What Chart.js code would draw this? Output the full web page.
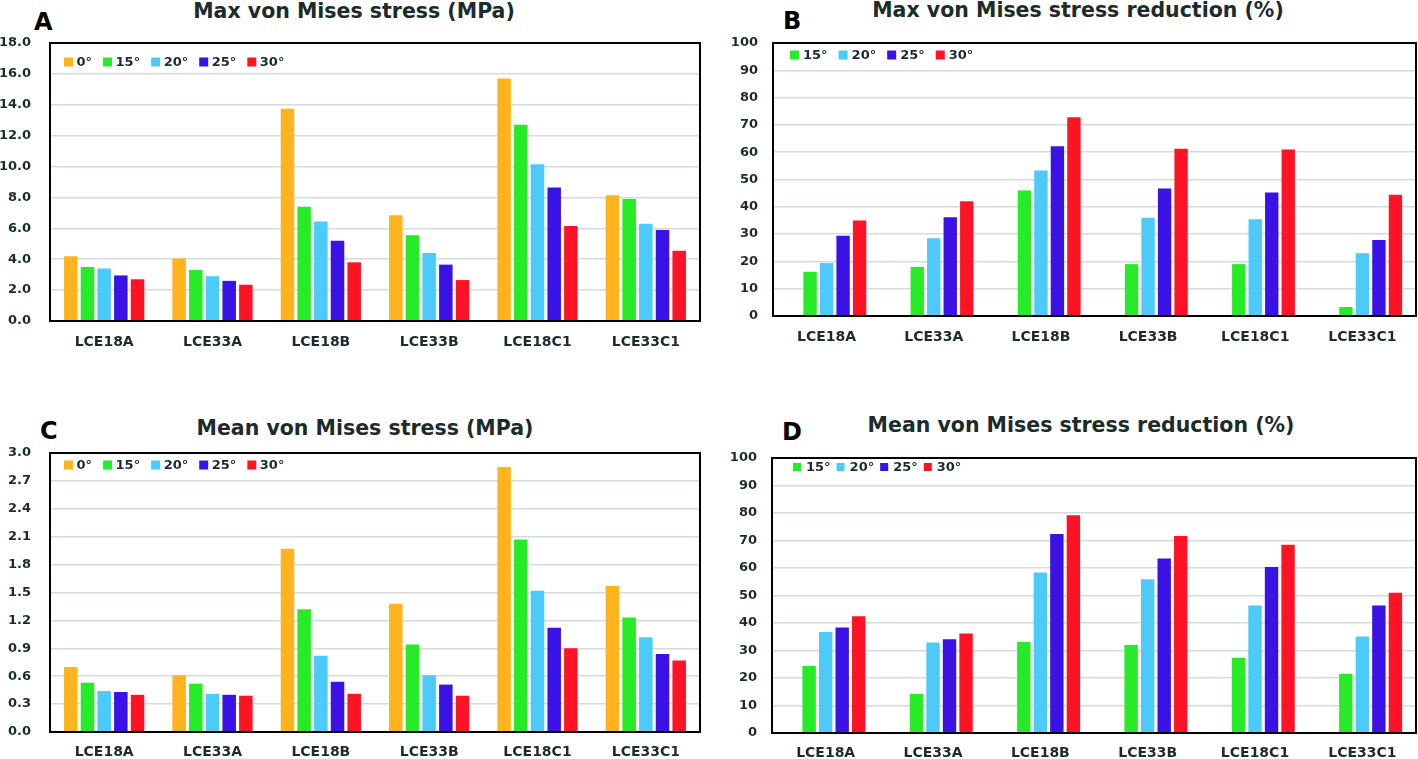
<!DOCTYPE html>
<html>
<head>
<meta charset="utf-8">
<script src="https://cdn.jsdelivr.net/npm/chart.js@4.4.1/dist/chart.umd.min.js"></script>
<style>
  body { margin: 0; background: #fff; width: 1418px; height: 759px; position: relative; overflow: hidden; font-family: "DejaVu Sans", sans-serif; }
  canvas { position: absolute; }
  .title { position: absolute; width: 600px; text-align: center; font-weight: bold; font-size: 20.5px; line-height: 24px; color: #1c2b2b; white-space: nowrap; }
  .letter { position: absolute; font-weight: bold; font-size: 24px; line-height: 28px; color: #000; }
</style>
</head>
<body>
<div class="letter" style="left:34px;top:8px">A</div>
<div class="letter" style="left:783px;top:7px">B</div>
<div class="letter" style="left:40px;top:417px">C</div>
<div class="letter" style="left:782px;top:418px">D</div>
<div class="title" style="left:54px;top:-1px">Max von Mises stress (MPa)</div>
<div class="title" style="left:778px;top:-2px">Max von Mises stress reduction (%)</div>
<div class="title" style="left:65px;top:416px">Mean von Mises stress (MPa)</div>
<div class="title" style="left:781px;top:413px">Mean von Mises stress reduction (%)</div>

<canvas id="chartA" width="710" height="380" style="left:0;top:0"></canvas>
<canvas id="chartB" width="708" height="380" style="left:710px;top:0"></canvas>
<canvas id="chartC" width="710" height="379" style="left:0;top:380px"></canvas>
<canvas id="chartD" width="708" height="379" style="left:710px;top:380px"></canvas>

<script>
// categories and series
var samples = ['LCE18A', 'LCE33A', 'LCE18B', 'LCE33B', 'LCE18C1', 'LCE33C1'];
var angles = ['0°', '15°', '20°', '25°', '30°'];
var colors = ['#ffb41e', '#27eb27', '#4ccbfa', '#3a12e6', '#ff1324'];

// A: max von Mises stress (MPa)
var maxStress0 = [4.2, 4.05, 13.75, 6.85, 15.7, 8.15];
var maxStress15 = [3.5, 3.3, 7.4, 5.55, 12.7, 7.9];
var maxStress20 = [3.4, 2.9, 6.45, 4.4, 10.15, 6.3];
var maxStress25 = [2.95, 2.6, 5.2, 3.65, 8.65, 5.9];
var maxStress30 = [2.7, 2.35, 3.8, 2.65, 6.15, 4.55];

// B: max von Mises stress reduction (%)
var maxRed15 = [16.2, 18.0, 46.0, 19.0, 19.0, 3.3];
var maxRed20 = [19.4, 28.5, 53.3, 36.0, 35.4, 23.0];
var maxRed25 = [29.4, 36.2, 62.2, 46.7, 45.2, 27.8];
var maxRed30 = [35.0, 42.0, 72.8, 61.3, 61.0, 44.4];

// C: mean von Mises stress (MPa)
var meanStress0 = [0.70, 0.61, 1.97, 1.38, 2.85, 1.57];
var meanStress15 = [0.53, 0.52, 1.32, 0.94, 2.07, 1.23];
var meanStress20 = [0.44, 0.41, 0.82, 0.61, 1.52, 1.02];
var meanStress25 = [0.43, 0.40, 0.54, 0.51, 1.12, 0.84];
var meanStress30 = [0.40, 0.39, 0.41, 0.39, 0.90, 0.77];

// D: mean von Mises stress reduction (%)
var meanRed15 = [24.4, 14.2, 33.1, 32.0, 27.4, 21.5];
var meanRed20 = [36.7, 32.9, 58.4, 55.9, 46.4, 35.1];
var meanRed25 = [38.4, 34.1, 72.4, 63.5, 60.4, 46.4];
var meanRed30 = [42.5, 36.2, 79.2, 71.6, 68.5, 51.0];

// no reduction for the 0° reference (keeps its slot empty)
var noValue = [null, null, null, null, null, null];

var textColor = '#1c2b2b';

var boxLegend = {
  id: 'boxLegend',
  afterDatasetsDraw: function(chart, args, o) {
    var ctx = chart.ctx;
    ctx.save();
    ctx.font = 'bold 13px "DejaVu Sans"';
    ctx.textBaseline = 'middle';
    var x = chart.chartArea.left + o.x;
    var y = chart.chartArea.top + o.y;
    chart.data.datasets.forEach(function(ds) {
      if (ds.noLegend) return;
      ctx.fillStyle = ds.backgroundColor;
      ctx.fillRect(x, y - o.box / 2, o.box, o.box);
      x += o.box + o.gap;
      ctx.fillStyle = textColor;
      ctx.fillText(ds.label, x, y + 1);
      x += ctx.measureText(ds.label).width + o.space;
    });
    ctx.restore();
  }
};

var frame = {
  id: 'frame',
  afterDraw: function(chart) {
    var a = chart.chartArea, ctx = chart.ctx;
    ctx.save();
    ctx.strokeStyle = '#000';
    ctx.lineWidth = 2;
    ctx.strokeRect(a.left, a.top, a.right - a.left, a.bottom - a.top);
    ctx.restore();
  }
};

function makeChart(id, series, cfg) {
  var datasets = series.map(function(values, i) {
    return {
      label: angles[i],
      data: values,
      backgroundColor: colors[i],
      noLegend: values === noValue,
      barPercentage: 0.81,
      categoryPercentage: 0.77
    };
  });
  return new Chart(document.getElementById(id), {
    type: 'bar',
    data: { labels: samples, datasets: datasets },
    plugins: [boxLegend, frame],
    options: {
      responsive: false,
      animation: false,
      devicePixelRatio: 1,
      layout: { padding: { top: cfg.top, right: cfg.right, left: 0, bottom: 0 } },
      plugins: {
        legend: { display: false },
        tooltip: { enabled: false },
        boxLegend: cfg.legend
      },
      scales: {
        x: {
          grid: { display: false, drawTicks: false },
          border: { display: false },
          ticks: { color: textColor, padding: cfg.xPad, font: { family: 'DejaVu Sans', size: 14, weight: 'bold' } },
          afterFit: function(s) { s.height = cfg.xH; }
        },
        y: {
          min: 0, max: cfg.max,
          grid: { color: '#d3dbdb', lineWidth: 1.5, drawTicks: false },
          border: { display: false },
          ticks: {
            stepSize: cfg.step,
            color: textColor,
            padding: cfg.yPad,
            font: { family: 'DejaVu Sans', size: 13, weight: 'bold' },
            callback: function(v) { return cfg.dec ? v.toFixed(cfg.dec) : Math.round(v); }
          },
          afterFit: function(s) { s.width = cfg.yW; }
        }
      }
    }
  });
}

makeChart('chartA', [maxStress0, maxStress15, maxStress20, maxStress25, maxStress30], {
  top: 43, right: 10, yW: 50, xH: 59, max: 18, step: 2, dec: 1, yPad: 19, xPad: 13,
  legend: { x: 14, y: 19, box: 9, gap: 3.5, space: 11 }
});
makeChart('chartB', [noValue, maxRed15, maxRed20, maxRed25, maxRed30], {
  top: 43, right: 2, yW: 63, xH: 64, max: 100, step: 10, dec: 0, yPad: 15, xPad: 13,
  legend: { x: 17, y: 12, box: 9, gap: 4, space: 11 }
});
makeChart('chartC', [meanStress0, meanStress15, meanStress20, meanStress25, meanStress30], {
  top: 73, right: 10, yW: 50, xH: 27, max: 3, step: 0.3, dec: 1, yPad: 19, xPad: 11.5,
  legend: { x: 14, y: 12, box: 9, gap: 3.5, space: 11 }
});
makeChart('chartD', [noValue, meanRed15, meanRed20, meanRed25, meanRed30], {
  top: 78, right: 2, yW: 62, xH: 26, max: 100, step: 10, dec: 0, yPad: 15, xPad: 11.5,
  legend: { x: 21, y: 9, box: 8, gap: 5, space: 6 }
});
</script>
</body>
</html>
